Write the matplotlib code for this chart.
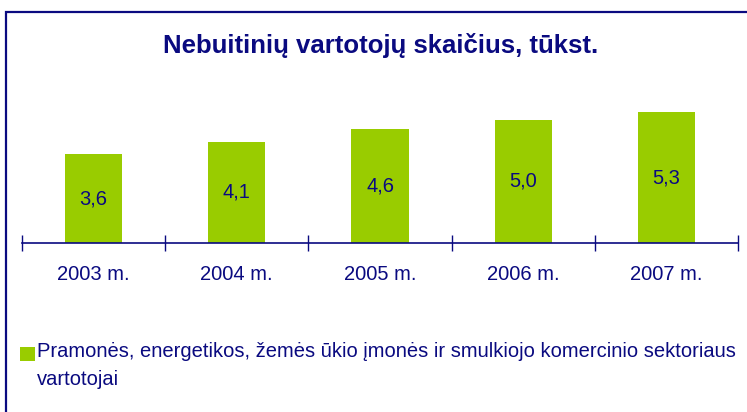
import matplotlib.pyplot as plt
from matplotlib.patches import Rectangle

# Data.
years = ["2003 m.", "2004 m.", "2005 m.", "2006 m.", "2007 m."]
values = [3.6, 4.1, 4.6, 5.0, 5.3]
title = "Nebuitinių vartotojų skaičius, tūkst."
series_name = ("Pramonės, energetikos, žemės ūkio įmonės ir smulkiojo komercinio sektoriaus\n"
               "vartotojai")

navy = "#0a0a80"
green = "#99cc00"
W, H = 747, 412

plt.rcParams['font.family'] = ['Liberation Sans', 'DejaVu Sans']

fig = plt.figure(figsize=(W / 100, H / 100), dpi=100)
fig.patch.set_facecolor("white")

# Outer frame (right and bottom edges cut off in the reference).
fig.patches.append(Rectangle((6 / W, -0.1), 1.2, (H - 12) / H + 0.1,
                             transform=fig.transFigure, fill=False,
                             edgecolor=navy, linewidth=1.6))

fig.text(381 / W, 1 - 46 / H, title, ha="center", va="center",
         fontsize=18.5, fontweight="bold", color=navy)

# Axes: baseline at y=243 px, x from 22 to 738 px.
ymax = 6.0
px_per_unit = 24.7
ax = fig.add_axes([22 / W, (H - 243) / H, 716 / W, ymax * px_per_unit / H])
x = list(range(len(years)))
bars = ax.bar(x, values, width=0.4, color=green, zorder=2)
for b, v in zip(bars, values):
    ax.text(b.get_x() + b.get_width() / 2, v / 2, f"{v:.1f}".replace(".", ","),
            ha="center", va="center", fontsize=14.5, color=navy)

ax.set_xlim(-0.5, len(years) - 0.5)
ax.set_ylim(0, ymax)
for s in ["top", "right", "left"]:
    ax.spines[s].set_visible(False)
ax.spines["bottom"].set_color(navy)
ax.spines["bottom"].set_linewidth(1.2)
ax.set_yticks([])
ax.set_xticks([i - 0.5 for i in range(len(years) + 1)])
ax.set_xticklabels([])
ax.tick_params(axis="x", which="major", direction="inout", length=11,
               width=1.0, color=navy)
ax.set_xticks(x, minor=True)
ax.set_xticklabels(years, minor=True)
ax.tick_params(axis="x", which="minor", length=0, pad=16, labelsize=14.5,
               labelcolor=navy)

# Legend drawn by hand so the square sits on the first line.
fig.patches.append(Rectangle((20 / W, 1 - 361 / H), 15 / W, 14 / H,
                             transform=fig.transFigure, facecolor=green,
                             edgecolor="none"))
fig.text(37 / W, 1 - 342 / H, series_name, ha="left", va="top",
         fontsize=14.5, color=navy, linespacing=1.6)

fig.savefig("out.png", dpi=100)
